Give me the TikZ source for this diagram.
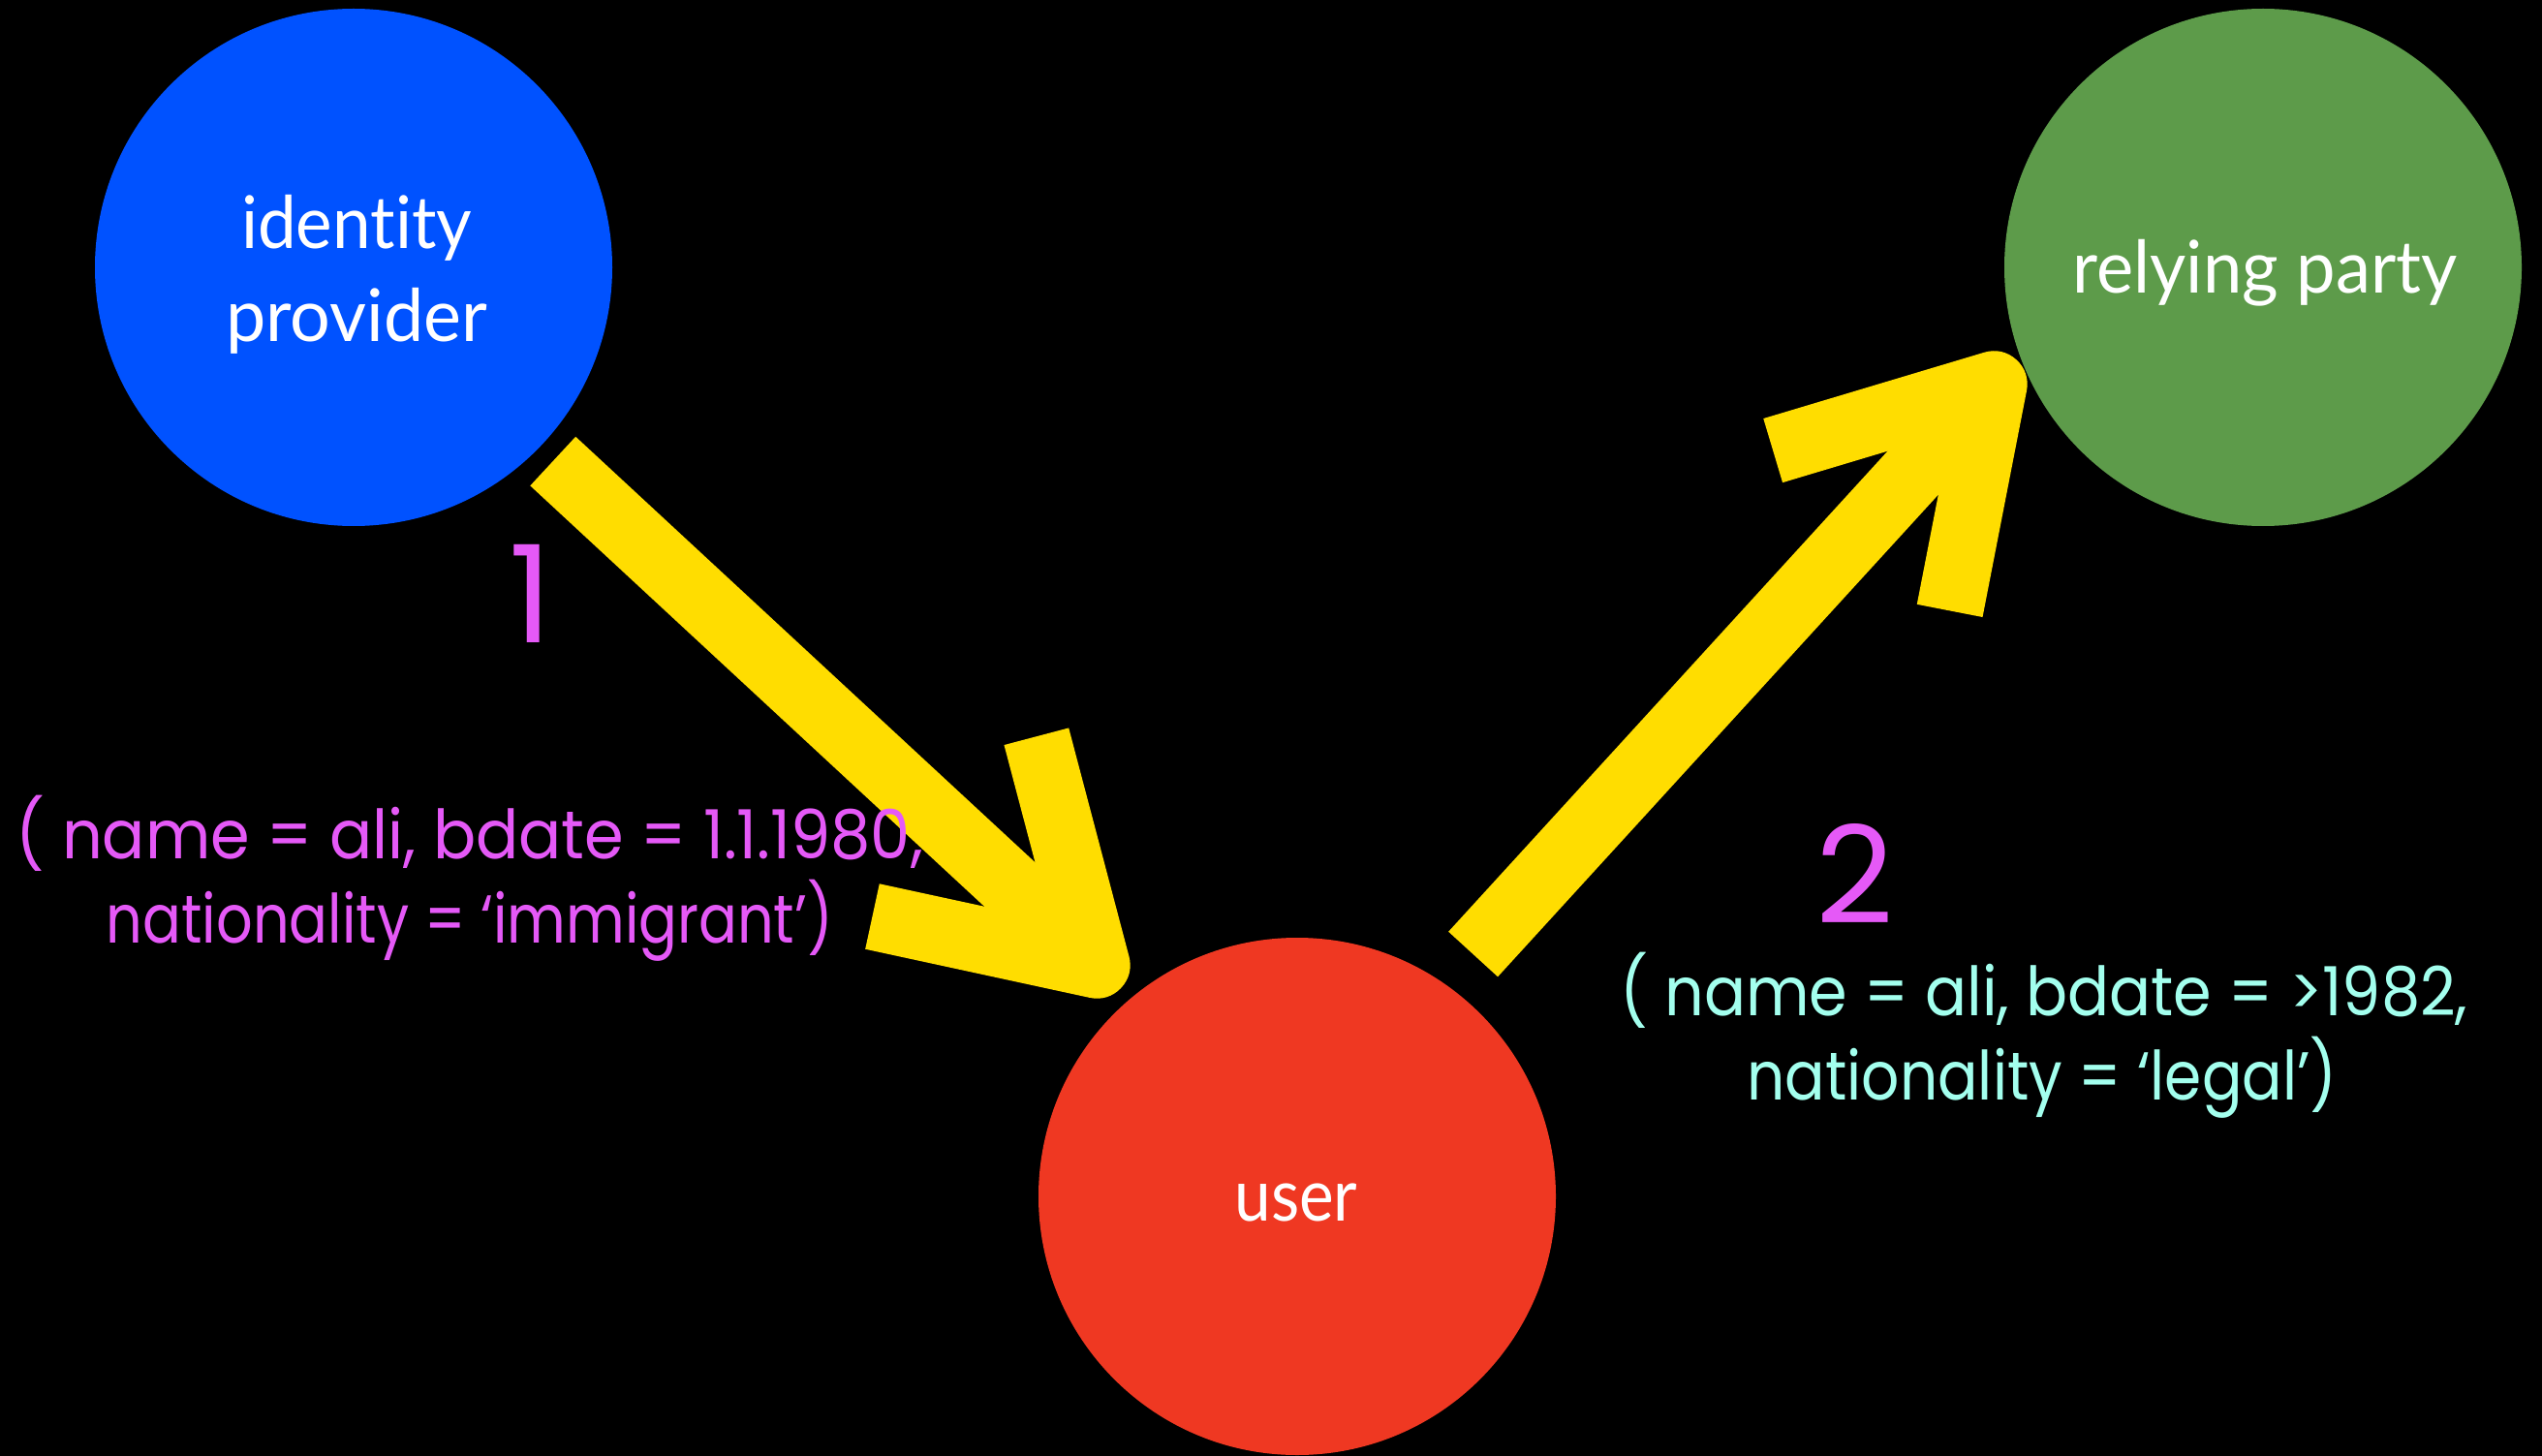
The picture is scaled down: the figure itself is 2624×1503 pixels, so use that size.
\documentclass[tikz,border=0pt]{standalone}
\usepackage{fontspec}
\usepackage{graphicx}
\usetikzlibrary{calc}
\newfontfamily\futfont{Poppins}
\newfontfamily\gillfont[Ligatures={NoCommon,NoContextual}]{Lato}
\definecolor{ipblue}{RGB}{0,82,255}
\definecolor{rpgreen}{RGB}{93,155,74}
\definecolor{ured}{RGB}{239,56,34}
\definecolor{flowyellow}{RGB}{255,221,0}
\definecolor{pinktext}{RGB}{229,89,247}
\definecolor{cyantext}{RGB}{163,255,238}
\newcommand\fitw[2]{\resizebox{#1}{\height}{#2}}
\begin{document}
\begin{tikzpicture}[x=1pt,y=-1pt,
  circ/.style={circle, inner sep=0pt, minimum size=534pt, draw=none},
  lbl/.style={text=white, font=\gillfont\fontsize{75}{90}\selectfont, anchor=base, inner sep=0pt},
  data/.style={font=\futfont\fontsize{70}{87}\selectfont, anchor=base, inner sep=0pt},
  num/.style={font=\futfont\fontsize{140}{140}\selectfont, text=pinktext, anchor=base, inner sep=0pt},
  flow/.style={draw=flowyellow, line width=69pt, line cap=butt, line join=round}]
\fill[black] (0,0) rectangle (2624,1503);
\useasboundingbox (0,0) rectangle (2624,1503);

% circles
\node[circ, fill=ipblue] (ip) at (365,276) {};
\node[circ, fill=rpgreen] (rp) at (2336,276) {};
\node[circ, fill=ured] (u) at (1339,1235) {};

% circle labels
\node[lbl] (ipt1) at (368,257) {\fitw{238pt}{identity}};
\node[lbl] (ipt2) at (368,353) {\fitw{270pt}{provider}};
\node[lbl] (rpt) at (2338,303) {\fitw{397pt}{relying party}};
\node[lbl] (ut) at (1338,1260) {\fitw{127pt}{user}};

% arrow 1
\coordinate (s1) at ($(ip.center)+(-44.2:287pt)$);
\coordinate (t1) at ($(u.center)+(130.9:316pt)$);
\draw[flow] (s1) -- (t1);
\draw[flow] ($(t1)!244pt!-32.4:(s1)$) -- (t1) -- ($(t1)!237pt!30.6:(s1)$);

% arrow 2
\coordinate (s2) at ($(u.center)+(54:309pt)$);
\coordinate (t2) at ($(rp.center)+(203.5:303pt)$);
\draw[flow] (s2) -- (t2);
\draw[flow] ($(t2)!238pt!-30.9:(s2)$) -- (t2) -- ($(t2)!238pt!31.4:(s2)$);

% step numbers
\node[num] (n1) at (548,663) {1};
\node[num] (n2) at (1915,953) {2};

% data texts
\node[data, text=pinktext] (d1a) at (485,886) {\fitw{936pt}{( name = ali, bdate = 1.1.1980,}};
\node[data, text=pinktext] (d1b) at (485,973) {\fitw{750pt}{nationality = ‘immigrant’)}};
\node[data, text=cyantext] (d2a) at (2110,1048) {\fitw{875pt}{( name = ali, bdate = >1982,}};
\node[data, text=cyantext] (d2b) at (2108,1135) {\fitw{609pt}{nationality = ‘legal’)}};
\end{tikzpicture}
\end{document}
